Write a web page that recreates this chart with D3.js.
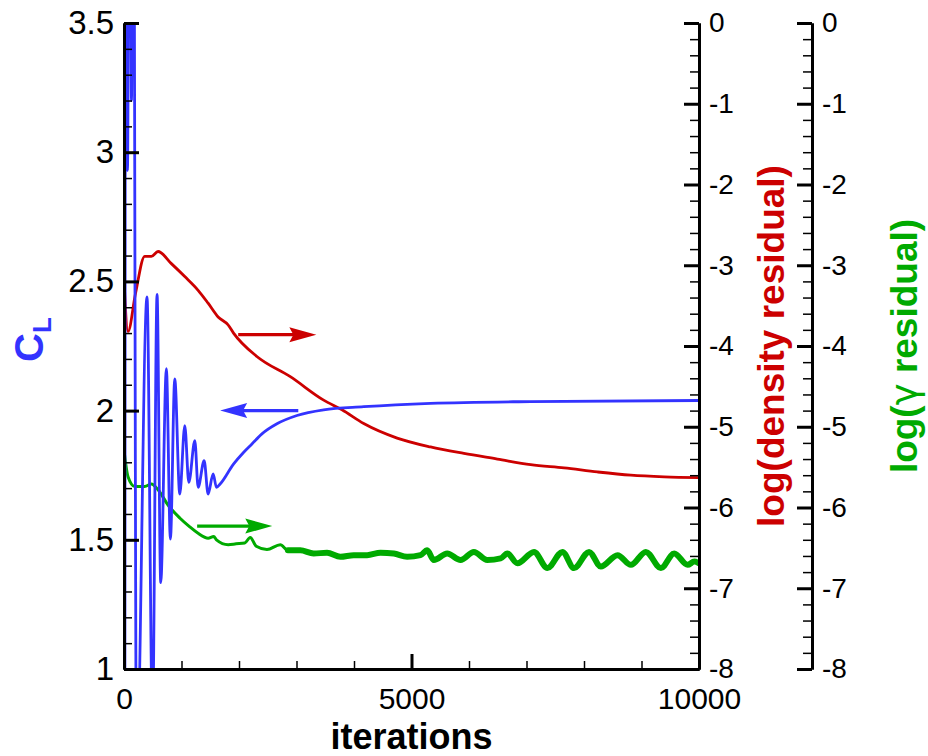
<!DOCTYPE html>
<html><head><meta charset="utf-8">
<script src="https://cdn.jsdelivr.net/npm/d3@7"></script>
<style>
body{margin:0;background:#fff;}
text{font-family:"Liberation Sans",Arial,Helvetica,sans-serif;}
</style></head>
<body><svg id="c" width="928" height="756"></svg>
<script>
// ---- data ----
const clIter = [0,12,28,60,100,130,160,218,400,496,575,639,737,807,883,970,1057,1127,1232,1289,1394,1463,1550,1608,1672,1904,2078,2225,2399,2660,3008,3472,4169,5331,7073,10000];
const clVal  = [5.0,0.4,4.8,2.93,4.8,3.2,4.8,0.6,2.44,0.8,2.45,1.334,2.162,1.503,2.123,1.677,1.942,1.722,1.884,1.703,1.806,1.677,1.755,1.703,1.716,1.793,1.838,1.871,1.910,1.949,1.981,2.003,2.015,2.028,2.035,2.039];

const rhoIter = [0,70,200,360,476,592,824,1057,1289,1463,1637,1812,1905,2311,2892,3472,3792,4169,4750,5331,5911,6493,7073,7653,8235,8815,9395,10000];
const rhoVal  = [-3.18,-3.82,-3.35,-2.89,-2.89,-2.83,-2.98,-3.14,-3.31,-3.47,-3.64,-3.74,-3.84,-4.13,-4.38,-4.67,-4.79,-4.96,-5.14,-5.25,-5.33,-5.40,-5.47,-5.51,-5.56,-5.60,-5.62,-5.63];

const gamIter = [0,70,186,360,476,592,766,970,1144,1289,1463,1560,1608,1812,1950,2100,2195,2300,2486,2718,2850,3066,3298,3531,3763,3995,4228,4460,4692,4924,5156,5273,5388,5621,5853,6085,6318,6550,6667,6841,7131,7363,7624,7827,8088,8292,8583,8815,9076,9337,9569,9802,9918,10000];
const gamVal  = [-5.29,-5.62,-5.74,-5.74,-5.71,-5.78,-5.97,-6.13,-6.24,-6.32,-6.38,-6.36,-6.40,-6.46,-6.45,-6.44,-6.37,-6.48,-6.52,-6.46,-6.53,-6.53,-6.57,-6.56,-6.61,-6.59,-6.59,-6.56,-6.57,-6.61,-6.59,-6.53,-6.65,-6.57,-6.65,-6.55,-6.65,-6.63,-6.57,-6.69,-6.55,-6.75,-6.55,-6.75,-6.55,-6.73,-6.59,-6.71,-6.55,-6.75,-6.57,-6.71,-6.67,-6.69];

// arrows: [iterStart, iterEnd, value] (head at iterEnd)
const arrowRho = [1986, 3345, -3.86];
const arrowCL  = [3031, 1672, 2.0];
const arrowGam = [1272, 2578, -6.23];

const xMajor = [0,5000,10000];
const xMinor = [1000,2000,3000,4000,6000,7000,8000,9000];
const clMajor = [1,1.5,2,2.5,3,3.5];
const clMinor = [1.1,1.2,1.3,1.4,1.6,1.7,1.8,1.9,2.1,2.2,2.3,2.4,2.6,2.7,2.8,2.9,3.1,3.2,3.3,3.4];
const resMajor = [-8,-7,-6,-5,-4,-3,-2,-1,0];
const resMinor = [-7.8,-7.6,-7.4,-7.2,-6.8,-6.6,-6.4,-6.2,-5.8,-5.6,-5.4,-5.2,-4.8,-4.6,-4.4,-4.2,-3.8,-3.6,-3.4,-3.2,-2.8,-2.6,-2.4,-2.2,-1.8,-1.6,-1.4,-1.2,-0.8,-0.6,-0.4,-0.2];

// ---- chart ----
const BLUE="#3333ff", RED="#cc0000", GREEN="#00aa00";
const L=124, R=699, T=23, B=669, R2=812;
const svg = d3.select("#c");
const x = d3.scaleLinear().domain([0,10000]).range([L,R]);
const yCL = d3.scaleLinear().domain([1,3.5]).range([B,T]);
const yRes = d3.scaleLinear().domain([-8,0]).range([B,T]);

svg.append("clipPath").attr("id","clip").append("rect")
  .attr("x",L).attr("y",T).attr("width",R-L).attr("height",B-T);

const plot = svg.append("g").attr("clip-path","url(#clip)");
function drawLine(pts, yS, col, w, curve){
  plot.append("path").datum(pts)
    .attr("fill","none").attr("stroke",col).attr("stroke-width",w)
    .attr("stroke-linejoin","round").attr("stroke-linecap","round")
    .attr("d", d3.line().x(d=>x(d[0])).y(d=>yS(d[1])).curve(curve));
}
const gamPts = gamIter.map((d,i)=>[d,gamVal[i]]);
drawLine(gamPts, yRes, GREEN, 3, d3.curveMonotoneX);
drawLine(gamPts.filter(d=>d[0]>=2800), yRes, GREEN, 6, d3.curveMonotoneX);
drawLine(rhoIter.map((d,i)=>[d,rhoVal[i]]), yRes, RED, 2.8, d3.curveMonotoneX);
drawLine(clIter.map((d,i)=>[d,clVal[i]]), yCL, BLUE, 2.8, d3.curveMonotoneX);

function arrow(a, yS, col){
  const x0=x(a[0]), x1=x(a[1]), yy=yS(a[2]);
  const dir = Math.sign(x1-x0), hl=27, hw=7.5;
  svg.append("line").attr("x1",x0).attr("x2",x1-dir*hl*0.8).attr("y1",yy).attr("y2",yy)
    .attr("stroke",col).attr("stroke-width",3.2);
  svg.append("path").attr("fill",col)
    .attr("d",`M${x1},${yy}L${x1-dir*hl},${yy-hw}L${x1-dir*hl*0.85},${yy}L${x1-dir*hl},${yy+hw}Z`);
}
arrow(arrowRho, yRes, RED);
arrow(arrowCL, yCL, BLUE);
arrow(arrowGam, yRes, GREEN);

function styleAxis(g, major, fs){
  g.selectAll(".domain").attr("stroke","#000").attr("stroke-width",3);
  g.selectAll(".tick line").attr("stroke","#000").attr("stroke-width", major?3:1.5);
  g.selectAll("text").attr("fill","#000").style("font-size",fs+"px")
    .style("font-family","'Liberation Sans',Arial,sans-serif");
}
const fmt = d=>String(d);
let g;
// left axis
g = svg.append("g").attr("transform",`translate(${L},0)`)
  .call(d3.axisLeft(yCL).tickValues(clMinor).tickSize(-8).tickSizeOuter(0).tickFormat(""));
styleAxis(g,false,33);
g = svg.append("g").attr("transform",`translate(${L},0)`)
  .call(d3.axisLeft(yCL).tickValues(clMajor).tickSize(-15).tickSizeOuter(0).tickPadding(10).tickFormat(fmt));
styleAxis(g,true,33);
// bottom axis
g = svg.append("g").attr("transform",`translate(0,${B})`)
  .call(d3.axisBottom(x).tickValues(xMinor).tickSize(-8).tickSizeOuter(0).tickFormat(""));
styleAxis(g,false,30);
g = svg.append("g").attr("transform",`translate(0,${B})`)
  .call(d3.axisBottom(x).tickValues(xMajor).tickSize(-15).tickSizeOuter(0).tickPadding(19).tickFormat(fmt));
styleAxis(g,true,30);
// right axes
[R, R2].forEach(px=>{
  let a = svg.append("g").attr("transform",`translate(${px},0)`)
    .call(d3.axisRight(yRes).tickValues(resMinor).tickSize(-9).tickSizeOuter(0).tickFormat(""));
  styleAxis(a,false,28);
  a = svg.append("g").attr("transform",`translate(${px},0)`)
    .call(d3.axisRight(yRes).tickValues(resMajor).tickSize(-15).tickSizeOuter(0).tickPadding(10).tickFormat(fmt));
  styleAxis(a,true,28);
});

// titles
svg.append("text").attr("x",(L+R)/2).attr("y",749).attr("text-anchor","middle")
  .style("font-size","36px").style("font-weight","bold").text("iterations");

const cl = svg.append("text").attr("transform","translate(43,362) rotate(-90)")
  .attr("fill",BLUE).style("font-size","40px").style("font-weight","bold");
cl.append("tspan").text("C");
cl.append("tspan").attr("dy","8").style("font-size","26px").text("L");

svg.append("text").attr("transform","translate(784,346) rotate(-90)").attr("text-anchor","middle")
  .attr("fill",RED).style("font-size","37px").style("font-weight","bold").text("log(density residual)");

const gl = svg.append("text").attr("transform","translate(917,346) rotate(-90)").attr("text-anchor","middle")
  .attr("fill",GREEN).style("font-size","37px").style("font-weight","bold");
gl.append("tspan").text("log(");
gl.append("tspan").style("font-weight","normal").style("font-family","'DejaVu Sans',sans-serif").text("γ");
gl.append("tspan").text(" residual)");
</script></body></html>
